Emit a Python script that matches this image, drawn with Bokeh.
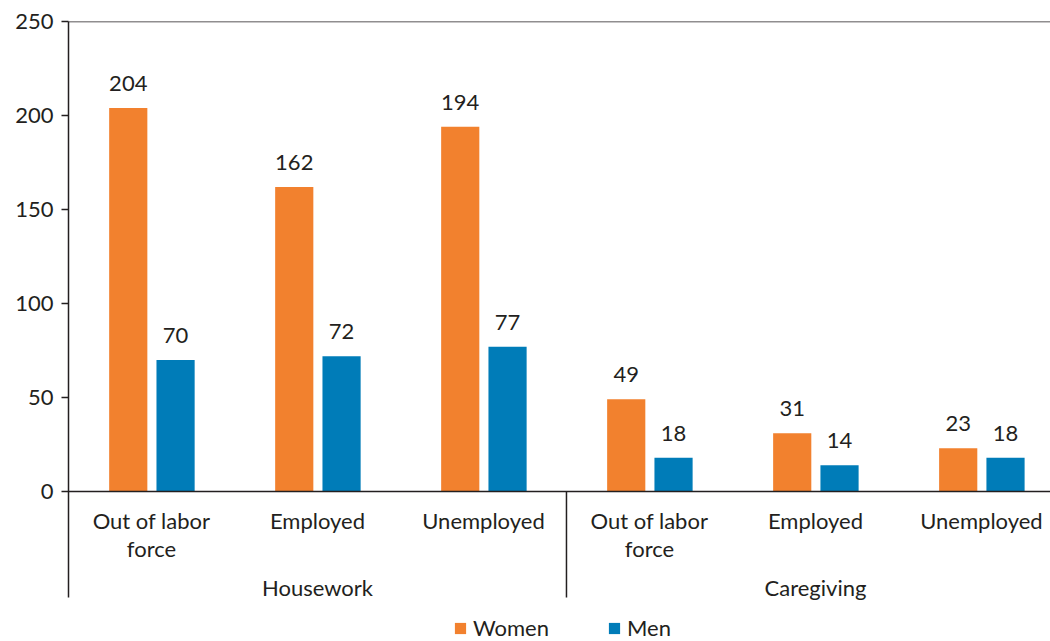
import numpy as np
from bokeh.plotting import figure
from bokeh.models import (ColumnDataSource, FixedTicker, Range1d,
                          Span, Legend, LegendItem)
from bokeh.core.properties import value
from bokeh.embed import file_html
from bokeh.resources import INLINE

groups = ["Housework", "Caregiving"]
statuses = ["Out of labor\nforce", "Employed", "Unemployed"]
women = [204, 162, 194, 49, 31, 23]
men = [70, 72, 77, 18, 14, 18]
y_ticks = [0, 50, 100, 150, 200, 250]

FONT = "Lato"
FS = "22px"
TXT = "#231f20"
ORANGE = "#F2812E"
BLUE = "#007CB8"
AXIS_BOTTOM = -56.4
X_VISIBLE_END = 5.916   # reference chart is cropped at the right edge
W_OFF, M_OFF, BAR_W = -0.14, 0.145, 0.23

n_s = len(statuses)
xc = np.arange(len(groups) * n_s) + 0.5

src = ColumnDataSource(dict(
    xw=xc + W_OFF,
    xm=xc + M_OFF,
    x=xc,
    women=women,
    men=men,
    wl=[str(v) for v in women],
    ml=[str(v) for v in men],
    lab=[s for g in groups for s in statuses],
    y0=[0] * len(xc),
))
grp_src = ColumnDataSource(dict(
    x=[i * n_s + n_s / 2 for i in range(len(groups))],
    y=[0] * len(groups),
    lab=groups,
))
sep_src = ColumnDataSource(dict(
    x=[i * n_s for i in range(1, len(groups))],
    y0=[0] * (len(groups) - 1),
    y1=[AXIS_BOTTOM] * (len(groups) - 1),
))

p = figure(width=1050, height=641, x_range=Range1d(0, X_VISIBLE_END), y_range=(-79.8, 250),
           output_backend="svg", toolbar_location=None, x_axis_location=None)
p.min_border_left = 68
p.min_border_right = 0
p.min_border_top = 21
p.min_border_bottom = 0
p.outline_line_color = None
p.xgrid.visible = False
p.ygrid.visible = False

ya = p.yaxis[0]
ya.bounds = (AXIS_BOTTOM, 250)
ya.ticker = FixedTicker(ticks=y_ticks)
ya.axis_line_color = TXT
ya.axis_line_width = 1.5
ya.major_tick_line_color = TXT
ya.major_tick_line_width = 1.5
ya.major_tick_out = 7
ya.major_tick_in = 0
ya.minor_tick_line_color = None
ya.major_label_standoff = 8
ya.major_label_text_font = FONT
ya.major_label_text_font_size = FS
ya.major_label_text_color = TXT

# top border and category axis line
p.add_layout(Span(location=250, dimension="width", line_color=TXT, line_width=1.5))
p.add_layout(Span(location=0, dimension="width", line_color=TXT, line_width=1.5))

# group separator
p.segment(x0="x", x1="x", y0="y0", y1="y1", source=sep_src, line_color=TXT, line_width=1.5)

rw = p.vbar(x="xw", top="women", width=BAR_W, source=src, fill_color=ORANGE, line_color=None)
rm = p.vbar(x="xm", top="men", width=BAR_W, source=src, fill_color=BLUE, line_color=None)

p.text(x="xw", y="women", text="wl", source=src,
       text_align="center", text_baseline="bottom", y_offset=-17,
       text_font=value(FONT), text_font_size=FS, text_color=TXT)
p.text(x="xm", y="men", text="ml", source=src,
       text_align="center", text_baseline="bottom", y_offset=-17,
       text_font=value(FONT), text_font_size=FS, text_color=TXT)

# category labels
p.text(x="x", y="y0", text="lab", source=src, text_align="center", text_baseline="top",
       y_offset=16, text_line_height=1.02,
       text_font=value(FONT), text_font_size=FS, text_color=TXT)
p.text(x="x", y="y", text="lab", source=grp_src, text_align="center", text_baseline="middle",
       y_offset=96, text_font=value(FONT), text_font_size=FS, text_color=TXT)

legend = Legend(items=[LegendItem(label="Women", renderers=[rw]),
                       LegendItem(label="Men", renderers=[rm])],
                orientation="horizontal", location=(385, 0),
                label_text_font=FONT, label_text_font_size=FS, label_text_color=TXT,
                glyph_width=14, glyph_height=14, label_standoff=6, spacing=58,
                border_line_color=None, background_fill_alpha=0, padding=2, margin=0)
p.add_layout(legend)

open("out.html", "w").write(file_html(p, INLINE))
